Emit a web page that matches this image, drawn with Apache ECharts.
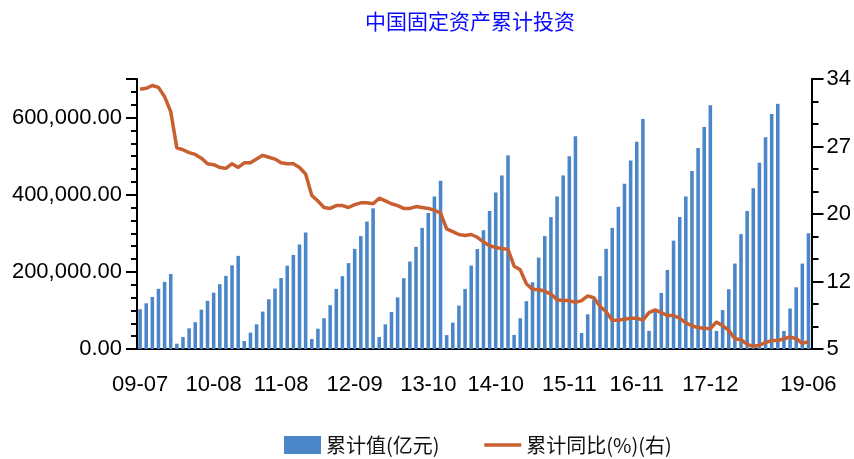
<!DOCTYPE html>
<html>
<head>
<meta charset="utf-8">
<script src="https://cdn.jsdelivr.net/npm/echarts@6/dist/echarts.min.js"></script>
<style>
  html, body { margin: 0; padding: 0; background: #fff; }
  #main { width: 854px; height: 459px; }
</style>
</head>
<body>
<div id="main"></div>
<script>
// months (year-month), Jan is merged into Feb in the source data
const months = [
  '09-07','09-08','09-09','09-10','09-11','09-12',
  '10-02','10-03','10-04','10-05','10-06','10-07','10-08','10-09','10-10','10-11','10-12',
  '11-02','11-03','11-04','11-05','11-06','11-07','11-08','11-09','11-10','11-11','11-12',
  '12-02','12-03','12-04','12-05','12-06','12-07','12-08','12-09','12-10','12-11','12-12',
  '13-02','13-03','13-04','13-05','13-06','13-07','13-08','13-09','13-10','13-11','13-12',
  '14-02','14-03','14-04','14-05','14-06','14-07','14-08','14-09','14-10','14-11','14-12',
  '15-02','15-03','15-04','15-05','15-06','15-07','15-08','15-09','15-10','15-11','15-12',
  '16-02','16-03','16-04','16-05','16-06','16-07','16-08','16-09','16-10','16-11','16-12',
  '17-02','17-03','17-04','17-05','17-06','17-07','17-08','17-09','17-10','17-11','17-12',
  '18-02','18-03','18-04','18-05','18-06','18-07','18-08','18-09','18-10','18-11','18-12',
  '19-02','19-03','19-04','19-05','19-06'
];

// 累计值(亿元)
const cumValue = [
  103000, 118500, 135000, 156000, 174000, 194500,
  13800, 31000, 53700, 69500, 102000, 124700, 146000, 168000, 189600, 217000, 241400,
  20800, 42400, 64000, 97000, 129000, 156600, 184000, 216000, 244000, 271000, 302000,
  26000, 52700, 79700, 113500, 155800, 188800, 222600, 259700, 292700, 330600, 364800,
  31000, 64000, 96000, 134000, 183600, 226700, 265000, 314000, 352400, 395500, 436500,
  36000, 68300, 112500, 155800, 216300, 259000, 308000, 357600, 406000, 450000, 502000,
  36400, 79700, 124000, 173000, 237000, 292700, 342000, 395500, 450000, 499400, 551600,
  41600, 90000, 128000, 188800, 259700, 314000, 368800, 428500, 489000, 537600, 596500,
  46800, 101000, 145400, 205000, 281000, 342000, 395500, 461400, 521000, 575700, 631700,
  46800, 101000, 155000, 221500, 297800, 358000, 417000, 483000, 549000, 609000, 635600,
  46800, 105000, 160000, 221500, 300000
];

// 累计同比(%)
const cumYoY = [
  32.9, 33.0, 33.3, 33.1, 32.1, 30.5,
  26.6, 26.4, 26.1, 25.9, 25.5, 24.9, 24.8, 24.5, 24.4, 24.9, 24.5,
  25.0, 25.0, 25.4, 25.8, 25.6, 25.4, 25.0, 24.9, 24.9, 24.5, 23.8,
  21.5, 20.9, 20.2, 20.1, 20.4, 20.4, 20.2, 20.5, 20.7, 20.7, 20.6,
  21.2, 20.9, 20.6, 20.4, 20.1, 20.1, 20.3, 20.2, 20.1, 19.9, 19.6,
  17.9, 17.6, 17.3, 17.2, 17.3, 17.0, 16.5, 16.1, 15.9, 15.8, 15.7,
  13.9, 13.5, 12.0, 11.4, 11.4, 11.2, 10.9, 10.3, 10.2, 10.2, 10.0,
  10.2, 10.7, 10.5, 9.6, 9.0, 8.1, 8.1, 8.2, 8.3, 8.3, 8.1,
  8.9, 9.2, 8.9, 8.6, 8.6, 8.3, 7.8, 7.5, 7.3, 7.2, 7.2,
  7.9, 7.5, 7.0, 6.1, 6.0, 5.5, 5.3, 5.4, 5.7, 5.9, 5.9,
  6.1, 6.3, 6.1, 5.6, 5.8
];

// tick labels
const xLabels = ['09-07','10-08','11-08','12-09','13-10','14-10','15-11','16-11','17-12','19-06'];
const leftLabels = [0, 200000, 400000, 600000];
const leftMajorTicks = [0, 200000, 400000, 600000, 700000];
const rightLabels = [5, 12.25, 19.5, 26.75, 34];

const LEFT_MAX = 700000;
const R_MIN = 5, R_MAX = 34;

// minor ticks on the right axis: 12 equal steps
let rightMinor = [];
for (let i = 0; i <= 12; i++) rightMinor.push(R_MIN + (R_MAX - R_MIN) * i / 12);

const numFont = 'Liberation Sans';
const cjkFont = 'Noto Sans CJK SC';
const lineColor = '#c85f30';

let chart = echarts.init(document.getElementById('main'), null, { renderer: 'canvas' });

let showX = (idx, val) => xLabels.indexOf(val) >= 0;

let option = {
  animation: false,
  title: {
    text: '中国固定资产累计投资',
    left: 365,
    top: 11,
    padding: 0,
    textStyle: { color: '#0a0aff', fontSize: 21, fontWeight: 'normal', fontFamily: cjkFont }
  },
  legend: {
    left: 284,
    top: 435,
    padding: 0,
    itemWidth: 37,
    itemHeight: 18,
    itemGap: 43,
    textStyle: { fontSize: 20, color: '#111', fontFamily: cjkFont },
    data: [
      { name: '累计值(亿元)', icon: 'rect' },
      { name: '累计同比(%)(右)', itemStyle: { opacity: 0 }, lineStyle: { color: lineColor, width: 3.5 } }
    ]
  },
  grid: { left: 137, right: 42, top: 79, bottom: 110 },
  xAxis: {
    type: 'category',
    data: months,
    boundaryGap: true,
    axisLine: { lineStyle: { color: '#000', width: 2 } },
    axisTick: { interval: showX, alignWithLabel: true, length: 11, lineStyle: { color: '#000', width: 2 } },
    axisLabel: { interval: showX, margin: 25, fontSize: 22, color: '#000', fontFamily: numFont }
  },
  yAxis: [
    {
      type: 'value', position: 'left', min: 0, max: LEFT_MAX,
      splitLine: { show: false },
      axisLine: { show: true, lineStyle: { color: '#000', width: 2 } },
      axisTick: { show: true, length: 11, customValues: leftMajorTicks, lineStyle: { color: '#000', width: 2 } },
      axisLabel: {
        customValues: leftLabels, margin: 15, fontSize: 22, color: '#000', fontFamily: numFont,
        formatter: v => v.toLocaleString('en-US', { minimumFractionDigits: 2, maximumFractionDigits: 2 })
      }
    },
    {
      type: 'value', position: 'right', min: R_MIN, max: R_MAX,
      splitLine: { show: false },
      axisLine: { show: true, lineStyle: { color: '#000', width: 2 } },
      axisTick: { show: true, length: 12, customValues: rightLabels, lineStyle: { color: '#000', width: 2 } },
      axisLabel: {
        customValues: rightLabels, margin: 15, fontSize: 22, color: '#000', fontFamily: numFont,
        formatter: v => String(Math.round(v))
      }
    },
    {
      // minor ticks, left
      type: 'value', position: 'left', min: 0, max: LEFT_MAX, interval: 100000 / 3,
      splitLine: { show: false },
      axisLine: { show: false },
      axisTick: { show: true, length: 6, lineStyle: { color: '#000', width: 2 } },
      axisLabel: { show: false }
    },
    {
      // minor ticks, right
      type: 'value', position: 'right', min: R_MIN, max: R_MAX,
      splitLine: { show: false },
      axisLine: { show: false },
      axisTick: { show: true, length: 7, customValues: rightMinor, lineStyle: { color: '#000', width: 2 } },
      axisLabel: { show: false }
    }
  ],
  series: [
    {
      name: '累计值(亿元)',
      type: 'bar',
      yAxisIndex: 0,
      data: cumValue,
      barWidth: '58%',
      itemStyle: { color: '#4a86c8' }
    },
    {
      name: '累计同比(%)(右)',
      type: 'line',
      yAxisIndex: 1,
      data: cumYoY,
      symbol: 'none',
      showSymbol: false,
      z: 5,
      lineStyle: { color: lineColor, width: 3.5 },
      itemStyle: { color: lineColor }
    }
  ]
};

chart.setOption(option);
</script>
</body>
</html>
